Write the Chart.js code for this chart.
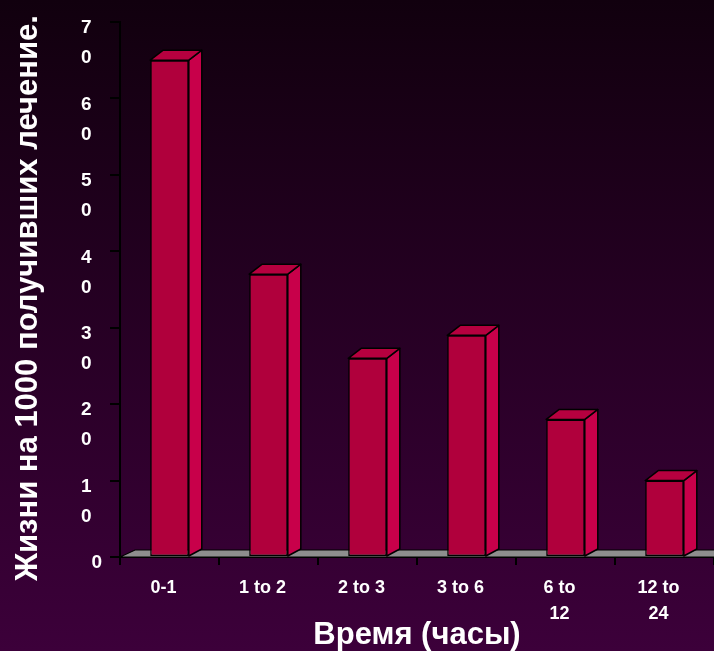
<!DOCTYPE html>
<html lang="ru">
<head>
    <meta charset="UTF-8">
    <title>Жизни на 1000 получивших лечение</title>
    <style>
        body {
            margin: 0;
            background-color: #260026;
        }
        .chart-box {
            width: 714px;
            height: 651px;
        }
    </style>
</head>
<body>
    <div class="chart-box">
        <canvas id="livesChart"></canvas>
    </div>

    <script src="https://cdn.jsdelivr.net/npm/chart.js"></script>
    <script>
        // Time since symptom onset (hours)
        const categories = ['0-1', '1 to 2', '2 to 3', '3 to 6', ['6 to', '12'], ['12 to', '24']];
        // Lives saved per 1000 treated
        const livesSaved = [65, 37, 26, 29, 18, 10];
        const yTicks = [0, 10, 20, 30, 40, 50, 60, 70];

        const depthX = 13;   // 3d depth of the bars
        const depthY = 10;
        const floorY = 7;

        // dark purple gradient behind everything
        const backdrop = {
            id: 'backdrop',
            beforeDraw(chart) {
                const ctx = chart.ctx;
                const g = ctx.createLinearGradient(0, 0, 0, chart.height);
                g.addColorStop(0, '#11000e');
                g.addColorStop(1, '#3c003a');
                ctx.save();
                ctx.fillStyle = g;
                ctx.fillRect(0, 0, chart.width, chart.height);
                ctx.restore();
            }
        };

        // grey floor under the bars
        const floor = {
            id: 'floor',
            beforeDatasetsDraw(chart) {
                const { ctx, chartArea } = chart;
                const b = chartArea.bottom;
                ctx.save();
                ctx.beginPath();
                ctx.moveTo(chartArea.left, b);
                ctx.lineTo(chartArea.left + depthX + 2, b - floorY);
                ctx.lineTo(chart.width + 20, b - floorY);
                ctx.lineTo(chart.width + 20, b);
                ctx.closePath();
                ctx.fillStyle = '#8e8e8e';
                ctx.fill();
                ctx.lineWidth = 1.2;
                ctx.strokeStyle = '#000';
                ctx.stroke();
                ctx.restore();
            }
        };

        // side and top faces for each bar
        const bars3d = {
            id: 'bars3d',
            afterDatasetsDraw(chart) {
                const ctx = chart.ctx;
                const meta = chart.getDatasetMeta(0);
                ctx.save();
                ctx.lineWidth = 1.5;
                ctx.strokeStyle = '#000';
                ctx.lineJoin = 'round';
                meta.data.forEach(bar => {
                    const { x, y, base, width } = bar.getProps(['x', 'y', 'base', 'width'], true);
                    const l = x - width / 2;
                    const r = x + width / 2;

                    ctx.beginPath();
                    ctx.moveTo(r, y);
                    ctx.lineTo(r + depthX, y - depthY);
                    ctx.lineTo(r + depthX, base - floorY);
                    ctx.lineTo(r, base);
                    ctx.closePath();
                    ctx.fillStyle = '#c8004a';
                    ctx.fill();
                    ctx.stroke();

                    ctx.beginPath();
                    ctx.moveTo(l, y);
                    ctx.lineTo(l + depthX, y - depthY);
                    ctx.lineTo(r + depthX, y - depthY);
                    ctx.lineTo(r, y);
                    ctx.closePath();
                    ctx.fillStyle = '#b6003f';
                    ctx.fill();
                    ctx.stroke();
                });
                ctx.restore();
            }
        };

        const ctx = document.getElementById('livesChart').getContext('2d');
        new Chart(ctx, {
            type: 'bar',
            data: {
                labels: categories,
                datasets: [{
                    data: livesSaved,
                    backgroundColor: '#b0003c',
                    borderColor: '#000',
                    borderWidth: 1.5,
                    borderSkipped: false,
                    barPercentage: 0.39,
                    categoryPercentage: 1
                }]
            },
            options: {
                responsive: true,
                maintainAspectRatio: false,
                animation: false,
                layout: {
                    padding: { top: 22, right: 0, bottom: 0, left: 0 }
                },
                plugins: {
                    legend: { display: false },
                    tooltip: { enabled: false }
                },
                scales: {
                    x: {
                        offset: true,
                        grid: {
                            offset: true,
                            drawOnChartArea: false,
                            drawTicks: true,
                            tickLength: 8,
                            color: '#000',
                            lineWidth: 2
                        },
                        border: { color: '#000', width: 2 },
                        ticks: {
                            color: '#fff',
                            padding: 10,
                            labelOffset: -6,
                            maxRotation: 0,
                            autoSkip: false,
                            font: { family: 'Liberation Sans, Arial, sans-serif', size: 18, weight: 'bold', lineHeight: 1.45 }
                        },
                        title: {
                            display: true,
                            text: 'Время (часы)',
                            color: '#fff',
                            padding: 0,
                            font: { family: 'Liberation Sans, Arial, sans-serif', size: 31, weight: 'bold', lineHeight: 1 }
                        },
                        afterFit(scale) {
                            scale.height = 94;
                            scale.paddingLeft = 0;
                            scale.paddingRight = 0;
                        }
                    },
                    y: {
                        min: 0,
                        max: 70,
                        afterBuildTicks(scale) {
                            scale.ticks = yTicks.map(v => ({ value: v }));
                        },
                        grid: {
                            drawOnChartArea: false,
                            drawTicks: true,
                            tickLength: 10,
                            color: '#000',
                            lineWidth: 2
                        },
                        border: { color: '#000', width: 2 },
                        ticks: {
                            color: '#fff',
                            padding: 8,
                            labelOffset: 21,
                            font: { family: 'Liberation Sans, Arial, sans-serif', size: 19, weight: 'bold', lineHeight: 1.58 },
                            // the old slide wraps every number one digit per line
                            callback: v => v === 0 ? ['0', ''] : String(v).split('').map(d => d + '  ')
                        },
                        title: {
                            display: true,
                            // trailing spaces nudge the rotated text down a little
                            text: 'Жизни на 1000 получивших лечение.  ',
                            color: '#fff',
                            padding: { top: 13, bottom: 0 },
                            font: { family: 'Liberation Sans, Arial, sans-serif', size: 31, weight: 'bold', lineHeight: 1 }
                        },
                        afterFit(scale) {
                            scale.width = 120;
                            scale.paddingTop = 0;
                            scale.paddingBottom = 0;
                        }
                    }
                }
            },
            plugins: [backdrop, floor, bars3d]
        });
    </script>
</body>
</html>
